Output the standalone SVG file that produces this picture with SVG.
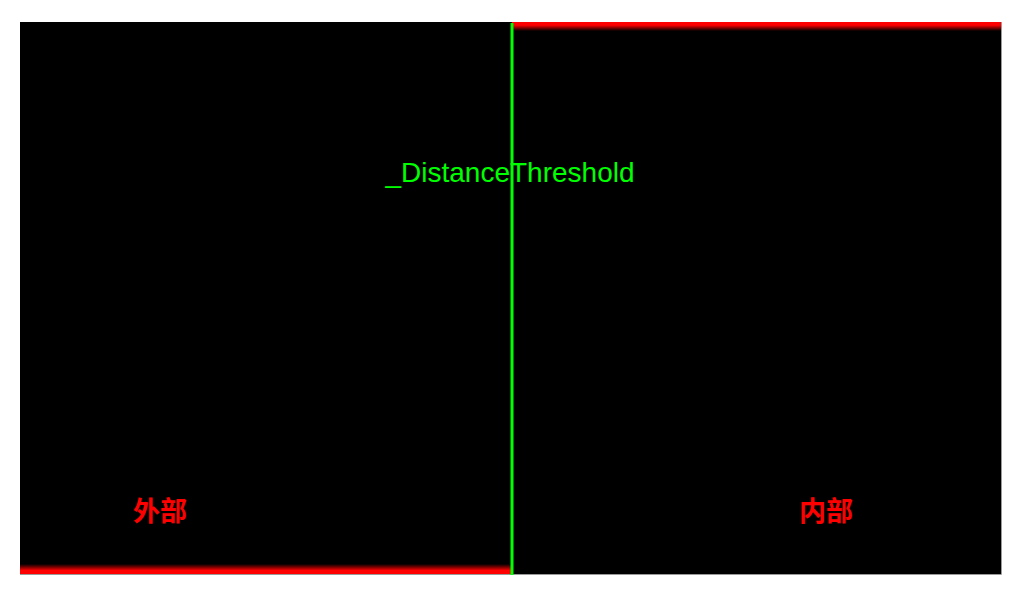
<svg xmlns="http://www.w3.org/2000/svg" width="1023" height="599" viewBox="0 0 1023 599">
<style>
.cjk{font-family:"Liberation Sans","Noto Sans CJK SC",sans-serif;font-size:27px;font-weight:bold;fill:#ff0000;text-anchor:middle}
.lbl{font-family:"Liberation Sans",Arial,sans-serif;font-size:28px;fill:#00ff00;text-anchor:middle}
</style>
<defs>
<linearGradient id="gTop" x1="0" y1="0" x2="0" y2="1">
<stop offset="0" stop-color="#ff0000"/>
<stop offset="0.35" stop-color="#ff0000"/>
<stop offset="1" stop-color="#ff0000" stop-opacity="0"/>
</linearGradient>
<linearGradient id="gBot" x1="0" y1="1" x2="0" y2="0">
<stop offset="0" stop-color="#ff0000"/>
<stop offset="0.35" stop-color="#ff0000"/>
<stop offset="1" stop-color="#ff0000" stop-opacity="0"/>
</linearGradient>
</defs>
<rect width="1023" height="599" fill="#ffffff"/>
<g id="field">
<rect x="20" y="22" width="981" height="552" fill="#000000"/>
<path d="M20 574.5 H1001.5 V22" fill="none" stroke="#9a9a9a" stroke-width="1"/>
<rect x="512" y="22" width="489" height="9" fill="url(#gTop)"/>
<rect x="20" y="564" width="492" height="10" fill="url(#gBot)"/>
</g>
<g id="connectors">
<line x1="512" y1="23" x2="512" y2="575" stroke="#00ff00" stroke-width="3"/>
</g>
<g id="threshold-label">
<text class="lbl" x="510" y="182">_DistanceThreshold</text>
</g>
<g id="outside">
<text class="cjk" x="160" y="521">外部</text>
</g>
<g id="inside">
<text class="cjk" x="826" y="521">内部</text>
</g>
</svg>
